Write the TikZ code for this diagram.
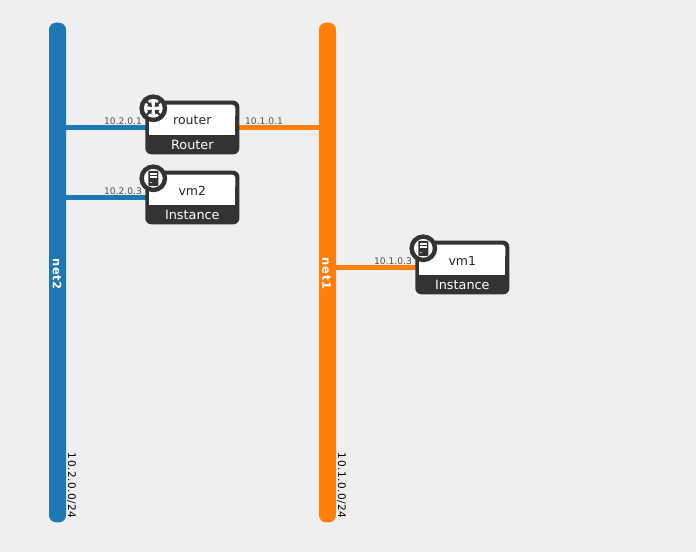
\documentclass[tikz,border=0pt]{standalone}
\usepackage{fontspec}
\setmainfont{DejaVu Sans}
\newfontfamily\spacedfont[LetterSpace=4.5]{DejaVu Sans}
\newfontfamily\widefont[LetterSpace=7]{DejaVu Sans}
\usetikzlibrary{arrows.meta,calc}
\definecolor{bgc}{HTML}{EFEFEF}
\definecolor{netblue}{HTML}{1F77B4}
\definecolor{netorange}{HTML}{FF7F0E}
\definecolor{dark}{HTML}{333333}
\tikzset{
  netbarv/.style={draw=none,fill=#1,rounded corners=7pt,minimum width=17pt,minimum height=499.6pt,inner sep=0pt},
  nettext/.style={text=white,font=\widefont\fontsize{11.5}{13}\selectfont\bfseries,rotate=-90,inner sep=0pt},
  subnet/.style={text=black,font=\spacedfont\fontsize{10.5}{12}\selectfont,rotate=-90,inner sep=0pt},
  iplabel/.style={text=black!68,font=\fontsize{9.1}{10}\selectfont,inner sep=0pt},
  link/.style={draw=#1,line width=5.6pt},
  devbox/.style={draw=none,fill=dark,rounded corners=6pt,minimum width=94pt,minimum height=53.6pt,inner sep=0pt},
  devname/.style={text=black!85,font=\fontsize{12.5}{14}\selectfont,inner sep=0pt},
  devtype/.style={text=white,font=\fontsize{12.8}{14}\selectfont,inner sep=0pt},
  devicon/.style={circle,draw=dark,fill=white,line width=4.4pt,minimum size=23.4pt,inner sep=0pt},
}
% name, x centre, y centre, label, type
\newcommand{\devnode}[5]{%
  \node[devbox] (#1) at (#2,#3) {};
  \fill[white,rounded corners=3.5pt] (#2-43,#3-23) rectangle (#2+43,#3-8);
  \fill[white] (#2-43,#3-15) rectangle (#2+43,#3+7.5);
  \node[devname] (#1name) at (#2,#3-7) {#4};
  \node[devtype] (#1type) at (#2,#3+17) {#5};
  \node[devicon] (#1icon) at (#2-39,#3-19.2) {};
}
\newcommand{\routerglyph}[1]{%
  \foreach \sx/\sy in {1/1,1/-1,-1/1,-1/-1}{
    \draw[dark,line width=2pt,-{Triangle[length=4pt,width=5.8pt]}] ($(#1)+(\sx*7.4,\sy*7.4)$) -- ($(#1)+(\sx*1.4,\sy*1.4)$);
  }%
}
\newcommand{\serverglyph}[1]{%
  \fill[dark,rounded corners=0.8pt] ($(#1)+(-5,-7.5)$) rectangle ($(#1)+(5,7.5)$);
  \fill[white] ($(#1)+(-3.4,-5.6)$) rectangle ($(#1)+(3.4,-3.6)$);
  \fill[white] ($(#1)+(-3.4,-2.2)$) rectangle ($(#1)+(3.4,-0.2)$);
  \fill[white!70!dark] ($(#1)+(-3.4,3.2)$) rectangle ($(#1)+(-1.4,5)$);
}
\begin{document}
\begin{tikzpicture}[x=1pt,y=-1pt]
\useasboundingbox (0,0) rectangle (696,552);
\fill[bgc] (0,0) rectangle (696,552);
% networks
\node[netbarv=netblue] (net2) at (57.5,272.5) {};
\node[netbarv=netorange] (net1) at (327.5,272.5) {};
\node[nettext] (net2text) at (57,274) {net2};
\node[nettext] (net1text) at (326.5,273.5) {net1};
\node[subnet] (net2sub) at (71.5,485.5) {10.2.0.0/24};
\node[subnet] (net1sub) at (341.5,485.5) {10.1.0.0/24};
% links
\coordinate (routerc) at (192.3,127.5);
\draw[link=netblue] (net2.east |- routerc) -- (routerc);
\draw[link=netorange] (routerc) -- (net1.west |- routerc);
\coordinate (vmtwoc) at (192.3,197.5);
\draw[link=netblue] (net2.east |- vmtwoc) -- (vmtwoc);
\coordinate (vmonec) at (462.3,267.5);
\draw[link=netorange] (net1.east |- vmonec) -- (vmonec);
\node[iplabel] (ip21) at (123,120.7) {10.2.0.1};
\node[iplabel] (ip11) at (264,120.7) {10.1.0.1};
\node[iplabel] (ip23) at (123,190.7) {10.2.0.3};
\node[iplabel] (ip13) at (393,260.7) {10.1.0.3};
% devices
\devnode{router}{192.3}{127.5}{router}{Router}
\devnode{vmtwo}{192.3}{197.5}{vm2}{Instance}
\devnode{vmone}{462.3}{267.5}{vm1}{Instance}
\routerglyph{routericon}
\serverglyph{vmtwoicon}
\serverglyph{vmoneicon}
\end{tikzpicture}
\end{document}
